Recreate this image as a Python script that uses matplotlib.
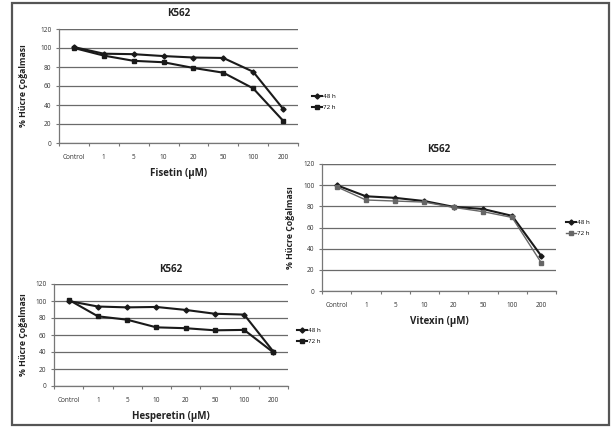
import matplotlib
matplotlib.use("Agg")
import matplotlib.pyplot as plt
from matplotlib.patches import Rectangle
import numpy as np

plt.rcParams['font.family'] = ['Open Sans', 'DejaVu Sans']

categories = ["Control", "1", "5", "10", "20", "50", "100", "200"]
series_names = ["48 h", "72 h"]
y_ticks = [0, 20, 40, 60, 80, 100, 120]

fisetin_48h = [101, 94, 93.5, 91.5, 90, 89.5, 75, 36]
fisetin_72h = [100, 92, 86.5, 85, 79, 74, 57.5, 23.5]

vitexin_48h = [100, 89.5, 88, 85, 79.5, 77.5, 71, 33]
vitexin_72h = [98.5, 86, 85, 84, 79, 75, 69.5, 26.5]

hesperetin_48h = [100, 93.5, 92.5, 93, 89.5, 85, 84, 40.5]
hesperetin_72h = [101.5, 82, 78, 69, 68, 65.5, 66, 39.5]

W, H = 615, 428
fig = plt.figure(figsize=(W / 100, H / 100), dpi=100)
fig.patch.set_facecolor("white")

# outer frame
fig.patches.append(Rectangle((12 / W, 1 - 425 / H), (609 - 12) / W, (425 - 3) / H,
                             transform=fig.transFigure, fill=False,
                             edgecolor="#555555", linewidth=1.6))


def px_axes(x0, y0, x1, y1):
    return fig.add_axes([x0 / W, 1 - y1 / H, (x1 - x0) / W, (y1 - y0) / H])


def panel(ax, v48, v72, xlabel, leg_xy, ylab_off, c72="#1a1a1a", lw72=1.5):
    x = np.arange(len(categories))
    ax.set_xlim(-0.5, len(categories) - 0.5)
    ax.set_ylim(0, 120)
    ax.set_yticks(y_ticks)
    ax.set_yticklabels([str(t) for t in y_ticks])
    ax.set_xticks(x)
    ax.set_xticklabels(categories)
    ax.set_xticks(np.arange(-0.5, len(categories), 1.0), minor=True)
    ax.tick_params(axis="x", which="major", length=0, labelsize=4.7, pad=8, colors="#333333")
    ax.tick_params(axis="x", which="minor", length=2.5, color="#777777", width=0.8)
    ax.tick_params(axis="y", length=2.5, color="#777777", width=0.8, labelsize=4.7,
                   pad=3, colors="#333333")
    for s in ["top", "right"]:
        ax.spines[s].set_visible(False)
    for s in ["left", "bottom"]:
        ax.spines[s].set_color("#777777")
        ax.spines[s].set_linewidth(0.9)
    ax.yaxis.grid(True, color="#6a6a6a", linewidth=0.9)
    ax.set_axisbelow(True)
    ax.axhline(120, color="#6a6a6a", linewidth=0.9, zorder=0.5)

    l1, = ax.plot(x, v48, color="#1a1a1a", linewidth=1.5, marker="D", markersize=2.6,
                  label=series_names[0])
    l2, = ax.plot(x, v72, color=c72, linewidth=lw72, marker="s", markersize=3.4,
                  label=series_names[1])
    ax.set_xlabel(xlabel, fontsize=7, fontweight="bold", labelpad=5, color="#222222")
    ax.set_ylabel("% Hücre Çoğalması", fontsize=6.3, fontweight="bold", color="#222222")
    bb = ax.get_position()
    ax.yaxis.set_label_coords(-ylab_off / (bb.width * W), 0.5)
    ax.set_title("K562", fontsize=7, fontweight="bold", pad=9, color="#222222")
    fig.legend(handles=[l1, l2], loc="center left",
               bbox_to_anchor=(leg_xy[0] / W, 1 - leg_xy[1] / H),
               bbox_transform=fig.transFigure, frameon=False, fontsize=4.5,
               handlelength=1.6, handletextpad=0.2, labelspacing=0.9,
               borderpad=0, borderaxespad=0)


ax1 = px_axes(59, 29, 298, 143)
panel(ax1, fisetin_48h, fisetin_72h, "Fisetin (µM)", (312, 102), 31)

ax2 = px_axes(322, 164, 556, 291)
panel(ax2, vitexin_48h, vitexin_72h, "Vitexin (µM)", (566, 228), 27, c72="#666666", lw72=1.0)

ax3 = px_axes(54, 284, 288, 386)
panel(ax3, hesperetin_48h, hesperetin_72h, "Hesperetin (µM)", (297, 336), 26)

fig.savefig("out.png", dpi=100, facecolor="white")
